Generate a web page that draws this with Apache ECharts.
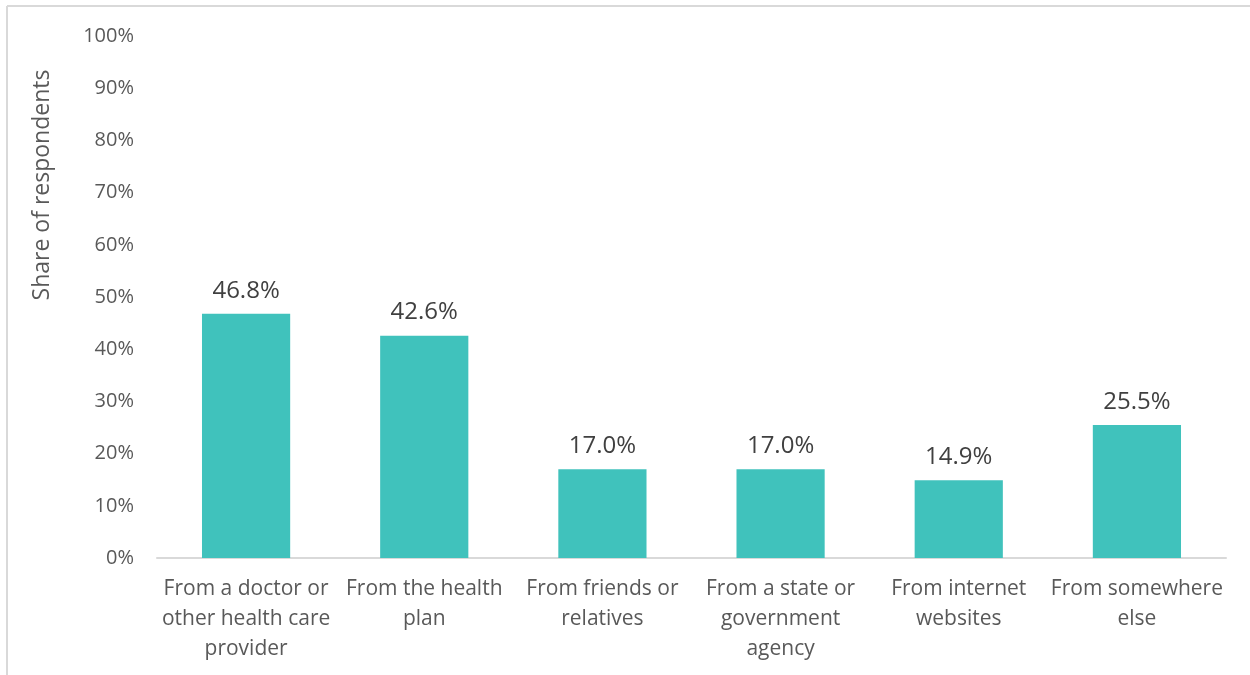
<!DOCTYPE html>
<html>
<head>
<meta charset="utf-8">
<script src="https://cdn.jsdelivr.net/npm/echarts@6/dist/echarts.min.js"></script>
<style>
  html, body { margin: 0; padding: 0; background: #ffffff; }
  #chart { width: 1250px; height: 675px; }
</style>
</head>
<body>
<div id="chart"></div>
<script>
const categories = [
  'From a doctor or\nother health care\nprovider',
  'From the health\nplan',
  'From friends or\nrelatives',
  'From a state or\ngovernment\nagency',
  'From internet\nwebsites',
  'From somewhere\nelse'
];
const shares = [46.8, 42.6, 17.0, 17.0, 14.9, 25.5];
const yAxisTitle = 'Share of respondents';

const FONT = '"Open Sans", "Noto Sans", sans-serif';
const chart = echarts.init(document.getElementById('chart'), null, { renderer: 'canvas' });

chart.setOption({
  animation: false,
  backgroundColor: '#ffffff',
  grid: { left: 157, right: 24, top: 36, bottom: 117, containLabel: false },
  graphic: [
    { type: 'line', shape: { x1: 7, y1: 6, x2: 1250, y2: 6 }, style: { stroke: '#D9D9D9', lineWidth: 2 } },
    { type: 'line', shape: { x1: 7, y1: 6, x2: 7, y2: 675 }, style: { stroke: '#D9D9D9', lineWidth: 2 } },
    {
      type: 'text', x: 42, y: 185, rotation: Math.PI / 2,
      style: { text: yAxisTitle, fontFamily: FONT, fontSize: 23, fill: '#595959', align: 'center', verticalAlign: 'middle' }
    }
  ],
  xAxis: {
    type: 'category',
    data: categories,
    axisLine: { show: true, lineStyle: { color: '#D9D9D9', width: 2 } },
    axisTick: { show: false },
    axisLabel: { color: '#595959', fontFamily: FONT, fontSize: 21, lineHeight: 30, margin: 16, interval: 0 }
  },
  yAxis: {
    type: 'value',
    min: 0, max: 100, interval: 10,
    splitLine: { show: false },
    axisLine: { show: false },
    axisTick: { show: false },
    axisLabel: { color: '#595959', fontFamily: FONT, fontSize: 20, margin: 23, formatter: v => v + '%' }
  },
  series: [{
    type: 'bar',
    data: shares,
    barWidth: '49.5%',
    itemStyle: { color: '#40C2BC' },
    label: {
      show: true, position: 'top', distance: 11,
      color: '#404040', fontFamily: FONT, fontSize: 24,
      formatter: p => p.value.toFixed(1) + '%'
    }
  }]
});
</script>
</body>
</html>
